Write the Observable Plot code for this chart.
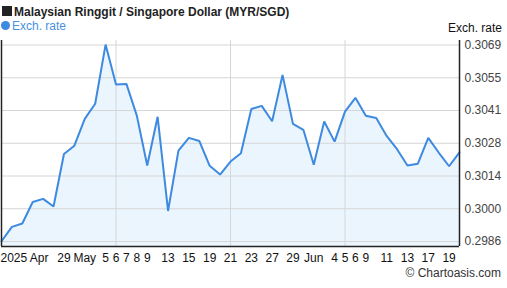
<!DOCTYPE html>
<html>
<head>
<meta charset="utf-8">
<script src="https://cdn.jsdelivr.net/npm/d3@7"></script>
<script src="https://cdn.jsdelivr.net/npm/@observablehq/plot@0.6"></script>
<style>
  html, body { margin: 0; padding: 0; background: #fff; }
  #chart svg { display: block; }
</style>
</head>
<body>
<div id="chart"></div>
<script>
// Trading days 2025-04-21 .. 2025-06-20
const dates = [
  "2025-04-21","2025-04-22","2025-04-23","2025-04-24","2025-04-25",
  "2025-04-28","2025-04-29","2025-04-30","2025-05-01","2025-05-02",
  "2025-05-05","2025-05-06","2025-05-07","2025-05-08","2025-05-09",
  "2025-05-12","2025-05-13","2025-05-14","2025-05-15","2025-05-16",
  "2025-05-19","2025-05-20","2025-05-21","2025-05-22","2025-05-23",
  "2025-05-26","2025-05-27","2025-05-28","2025-05-29","2025-05-30",
  "2025-06-02","2025-06-03","2025-06-04","2025-06-05","2025-06-06",
  "2025-06-09","2025-06-10","2025-06-11","2025-06-12","2025-06-13",
  "2025-06-16","2025-06-17","2025-06-18","2025-06-19","2025-06-20"
];
const rates = [
  0.29861, 0.29922, 0.29936, 0.30027, 0.30040,
  0.30008, 0.30230, 0.30265, 0.30378, 0.30442,
  0.30692, 0.30523, 0.30526, 0.30392, 0.30181,
  0.30387, 0.29989, 0.30244, 0.30298, 0.30285,
  0.30180, 0.30143, 0.30198, 0.30233, 0.30420,
  0.30433, 0.30368, 0.30564, 0.30357, 0.30332,
  0.30184, 0.30367, 0.30282, 0.30409, 0.30467,
  0.30391, 0.30382, 0.30306, 0.30250, 0.30181,
  0.30189, 0.30298, 0.30236, 0.30178, 0.30237
];
// x tick labels (by trading-day index)
const xTickIndex = [0, 6, 8, 10, 11, 12, 13, 14, 16, 18, 20, 22, 24, 26, 28, 30, 32, 33, 34, 35, 37, 39, 41, 43];
const xTickLabels = ["2025 Apr","29","May","5","6","7","8","9","13","15","19","21","23","27","29","Jun","4","5","6","9","11","13","17","19"];
// y ticks
const yTicks = [0.29860, 0.299984, 0.301368, 0.302752, 0.304136, 0.305520, 0.306904];
const yDomain = [0.298389, 0.307094];
const xGridIndex = [11, 22, 33];

const data = rates.map((v, i) => ({i, date: dates[i], v}));
const xt = xTickIndex.map((i, k) => ({i, label: xTickLabels[k]}));

const font = "Arial, 'Liberation Sans', sans-serif";
const lineColor = "#3d8ae0";

const plot = Plot.plot({
  width: 507,
  height: 288,
  marginLeft: 1,
  marginRight: 48,
  marginTop: 40,
  marginBottom: 42,
  style: {fontFamily: font, fontSize: "12px", background: "#fff", overflow: "visible"},
  x: {domain: [0, rates.length - 1], axis: null},
  y: {domain: yDomain, axis: null},
  marks: [
    Plot.areaY(data, {x: "i", y1: () => yDomain[0], y2: "v", fill: "#ebf5fe"}),
    Plot.gridY(yTicks, {stroke: "#d6d6d6", strokeOpacity: 1, strokeWidth: 1}),
    Plot.ruleX(xGridIndex, {stroke: "#d6d6d6", strokeWidth: 1}),
    Plot.line(data, {x: "i", y: "v", stroke: lineColor, strokeWidth: 2, strokeLinejoin: "miter"}),
    Plot.ruleX([0, rates.length - 1], {stroke: "#222", strokeWidth: 1.5}),
    Plot.ruleY([yDomain[0]], {stroke: "#222", strokeWidth: 1.5}),
    Plot.axisY(yTicks, {anchor: "right", tickSize: 0, tickPadding: 5, tickFormat: d => d.toFixed(4), fill: "#444", fontSize: 12, label: null}),
    Plot.text(xt.slice(0, 1), {x: "i", text: "label", frameAnchor: "bottom", dy: 15, textAnchor: "start", fill: "#111", fontSize: 12, dx: -1}),
    Plot.text(xt.slice(1), {x: "i", text: "label", frameAnchor: "bottom", dy: 15, fill: "#111", fontSize: 12})
  ]
});

const svg = d3.select(plot);
const header = svg.append("g").attr("text-anchor", "start").attr("font-family", font).attr("font-size", 12);
header.append("rect").attr("x", 2).attr("y", 6).attr("width", 10).attr("height", 10).attr("fill", "#222");
header.append("text").attr("x", 14).attr("y", 15.5).attr("text-anchor", "start").attr("font-weight", "bold").attr("fill", "#222")
  .text("Malaysian Ringgit / Singapore Dollar (MYR/SGD)");
header.append("circle").attr("cx", 5.5).attr("cy", 25.5).attr("r", 4.5).attr("fill", lineColor);
header.append("text").attr("x", 12).attr("y", 29.5).attr("text-anchor", "start").attr("fill", "#4a90e2")
  .text("Exch. rate");
header.append("text").attr("x", 502).attr("y", 32).attr("text-anchor", "end").attr("fill", "#111")
  .text("Exch. rate");
header.append("text").attr("x", 501).attr("y", 277).attr("text-anchor", "end").attr("fill", "#333")
  .text("© Chartoasis.com");

document.getElementById("chart").appendChild(plot);
</script>
</body>
</html>
